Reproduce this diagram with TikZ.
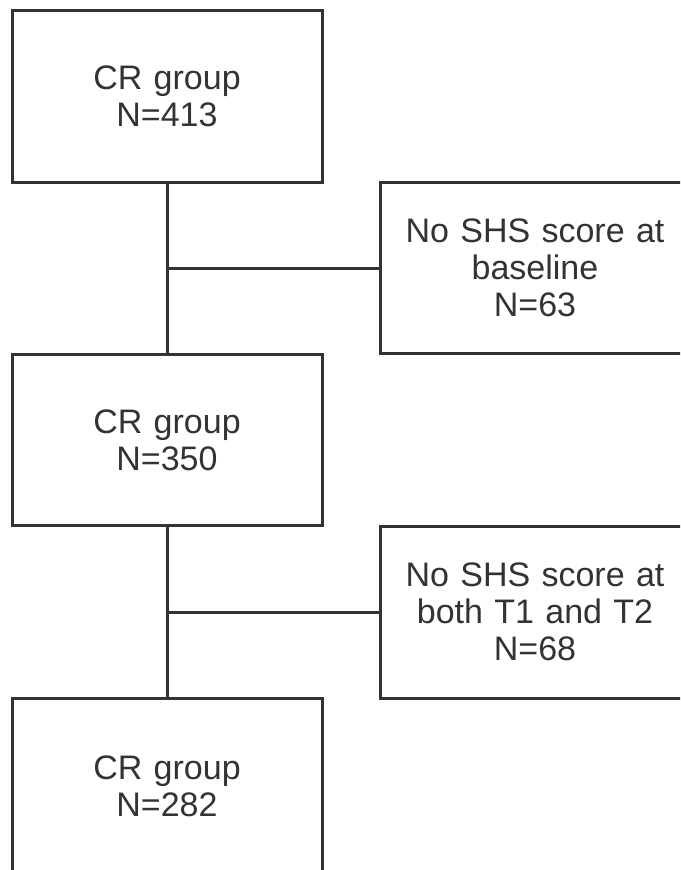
\documentclass[tikz,border=0pt]{standalone}
\usepackage{fontspec}
\setmainfont{Liberation Sans}
\definecolor{ink}{HTML}{333333}
\begin{document}
\begin{tikzpicture}[x=1pt,y=-1pt,
  box/.style={draw=ink, line width=3pt, fill=white, text=ink,
    minimum width=310pt, text width=300pt, align=center, inner sep=0pt,
    font=\fontsize{34}{37}\selectfont},
  link/.style={draw=ink, line width=3pt}]
\useasboundingbox (0,0) rectangle (680,870);
\clip (0,0) rectangle (680,870);
\node[box, minimum height=172pt] (g1) at (167,96) {CR group\\N=413};
\node[box, minimum height=171pt] (x1) at (535,268) {No SHS score at\\baseline\\N=63};
\node[box, minimum height=171pt] (g2) at (167,440) {CR group\\N=350};
\node[box, minimum height=172pt] (x2) at (535,612) {No SHS score at\\both T1 and T2\\N=68};
\node[box, minimum height=176pt] (g3) at (167,786) {CR group\\N=282};
\draw[link] (g1.south) -- (g2.north);
\draw[link] (g2.south) -- (g3.north);
\coordinate (j1) at (g1.south |- x1.west);
\coordinate (j2) at (g2.south |- x2.west);
\draw[link] (j1) -- (x1.west);
\draw[link] (j2) -- (x2.west);
\end{tikzpicture}
\end{document}
